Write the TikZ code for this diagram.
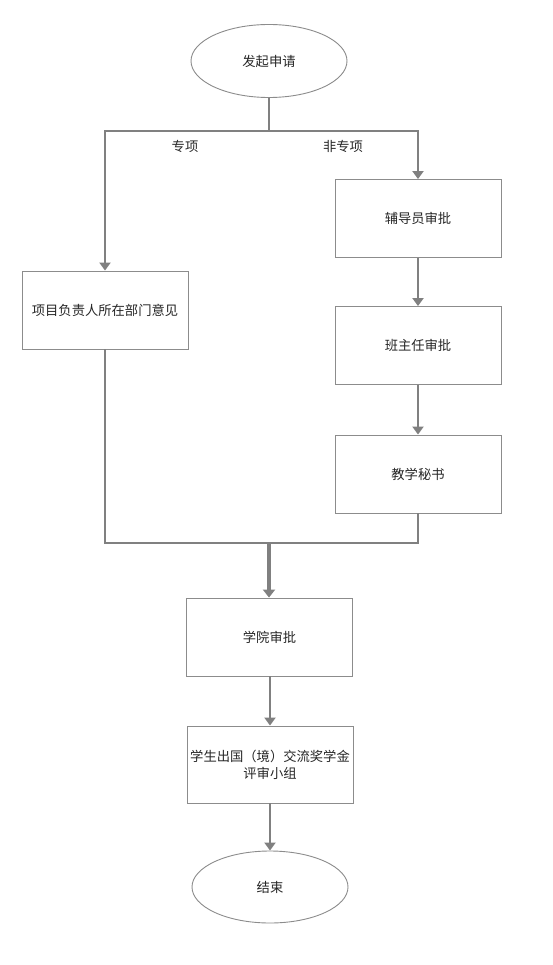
\documentclass[tikz,border=0pt]{standalone}
\usepackage{fontspec}
\setmainfont{Noto Sans CJK SC}
\usetikzlibrary{arrows.meta,shapes.geometric}
\definecolor{linegray}{HTML}{808080}
\definecolor{boxgray}{HTML}{8C8C8C}
\tikzset{
  box/.style={draw=boxgray,line width=0.9pt,rectangle,minimum width=166pt,minimum height=78pt,inner sep=0pt,align=center,font=\fontsize{13.3}{17}\selectfont,text=black!85},
  oval/.style={draw=boxgray,line width=0.9pt,ellipse,minimum width=156pt,minimum height=73pt,inner sep=0pt,font=\fontsize{13.3}{17}\selectfont,text=black!85},
  conn/.style={draw=linegray,line width=2pt},
  arr/.style={conn,-{Triangle[length=8pt,width=11pt]}},
  lbl/.style={font=\fontsize{13.3}{17}\selectfont,text=black!85,inner sep=0pt}
}
\begin{document}
\begin{tikzpicture}[x=1pt,y=-1pt]
\useasboundingbox[fill=white] (0,0) rectangle (552,965);
\node[oval] (start) at (269,61) {发起申请};
\node[box] (proj) at (105,310) {项目负责人所在部门意见};
\node[box] (fdy) at (418,218.5) {辅导员审批};
\node[box] (bzr) at (418,345.5) {班主任审批};
\node[box] (jxms) at (418,474) {教学秘书};
\node[box] (xy) at (269.5,637) {学院审批};
\node[box,minimum height=77pt] (pc) at (270,764.5) {学生出国（境）交流奖学金\\评审小组};
\node[oval,minimum height=72pt] (end) at (270,887) {结束};
\coordinate (split) at (269,131);
\coordinate (merge) at (269,543);
\node[lbl] (l1) at (185,146) {专项};
\node[lbl] (l2) at (343,146) {非专项};
\draw[conn] (start.south) -- (split);
\draw[arr] (split) -| (proj.north);
\draw[arr] (split) -| (fdy.north);
\draw[arr] (fdy) -- (bzr);
\draw[arr] (bzr) -- (jxms);
\draw[conn] (proj.south) |- (merge);
\draw[conn] (jxms.south) |- (merge);
\draw[conn,line width=3.2pt,-{Triangle[length=8pt,width=12pt]}] (merge) -- (merge |- xy.north);
\draw[arr] (pc.north |- xy.south) -- (pc.north);
\draw[arr] (pc.south) -- (end.north);
\end{tikzpicture}
\end{document}
